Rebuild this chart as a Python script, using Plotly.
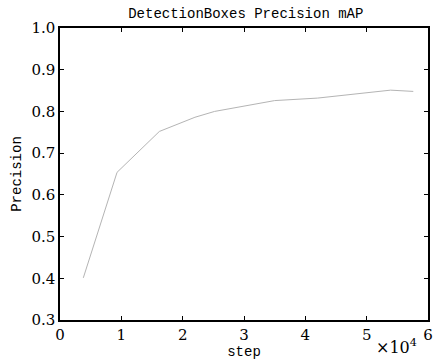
import plotly.graph_objects as go

steps = [3800, 9300, 16200, 22000, 25200, 35000, 42000, 53900, 57600]
precision = [0.401, 0.654, 0.752, 0.786, 0.800, 0.826, 0.832, 0.851, 0.848]
x_tick_vals = [0, 10000, 20000, 30000, 40000, 50000, 60000]
x_tick_text = ["0", "1", "2", "3", "4", "5", "6"]
y_tick_vals = [0.3, 0.4, 0.5, 0.6, 0.7, 0.8, 0.9, 1.0]
y_tick_text = ["0.3", "0.4", "0.5", "0.6", "0.7", "0.8", "0.9", "1.0"]

mono = "Liberation Mono, DejaVu Sans Mono, monospace"
serif = "DejaVu Serif, Liberation Serif, serif"

fig = go.Figure()
fig.add_trace(go.Scatter(x=steps, y=precision, mode="lines",
                         line=dict(color="#b4b4b4", width=1), showlegend=False))

fig.update_layout(
    width=437, height=361,
    margin=dict(l=60, r=4, t=28, b=41),
    paper_bgcolor="white", plot_bgcolor="white",
    font=dict(family=mono, color="black", size=14),
    title=dict(text="DetectionBoxes Precision mAP", x=0.5625, xanchor="center",
               y=0.965, yanchor="middle", font=dict(family=mono, size=14)),
)
fig.update_xaxes(range=[0, 60000], tickvals=x_tick_vals, ticktext=x_tick_text,
                 ticks="inside", ticklen=4, tickwidth=1, tickcolor="black",
                 showline=True, linecolor="black", linewidth=1.5, mirror="ticks",
                 showgrid=False, zeroline=False,
                 tickfont=dict(family=serif, size=15),
                 title=dict(text="step", font=dict(family=mono, size=14), standoff=2))
fig.update_yaxes(range=[0.3, 1.0], tickvals=y_tick_vals, ticktext=y_tick_text,
                 ticks="inside", ticklen=4, tickwidth=1, tickcolor="black",
                 showline=True, linecolor="black", linewidth=1.5, mirror="ticks",
                 showgrid=False, zeroline=False,
                 tickfont=dict(family=serif, size=15),
                 title=dict(text="Precision", font=dict(family=mono, size=14), standoff=6))
fig.add_annotation(text="×10<sup>4</sup>", xref="paper", yref="paper", x=0.976, y=-0.134,
                   xanchor="right", yanchor="bottom", showarrow=False,
                   font=dict(family=serif, size=16))
fig.write_html("out.html")
